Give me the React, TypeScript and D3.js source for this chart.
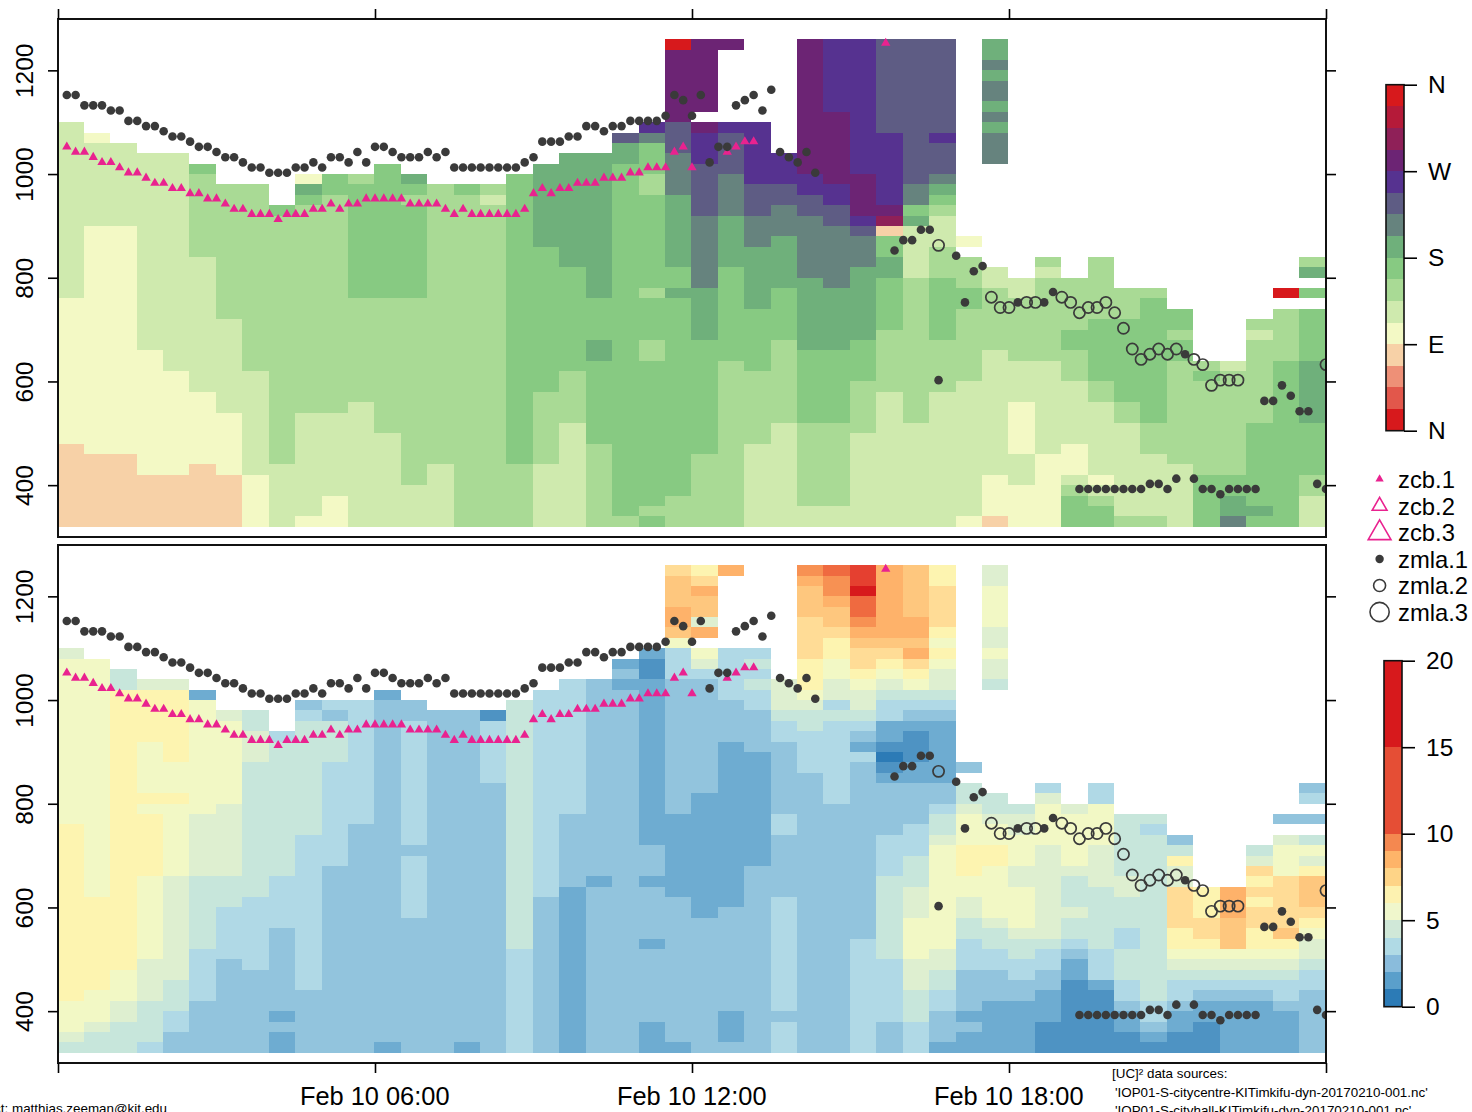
import React, { useEffect, useRef } from 'react';
import * as d3 from 'd3';

// cell grid: one column per 30 min, one gate per 20 m starting at 320 m
const GATE_BASE = 320;
const GATE_SIZE = 20;

// wind direction classes, 22.5 degree bins from north through east
const dirColors = ['#d7191c', '#e2574b', '#ee9077', '#f7d1a7', '#f3f9c5', '#cfeaae', '#a9da95', '#87ca82', '#6fb07b', '#66837e', '#5e5c84', '#563290', '#6c2474', '#8f2058', '#b51a39', '#d7191c'];
const dirKeys: Record<string, string> = { R: '#d7191c', P: '#f7d1a7', Y: '#f3f9c5', L: '#cfeaae', M: '#a9da95', G: '#87ca82', D: '#6fb07b', T: '#66837e', S: '#5e5c84', V: '#563290', U: '#6c2474', C: '#8f2058' };

// wind speed classes as the cells use them
const speedKeys: Record<string, string> = { a: '#2c7bb6', b: '#4e93c3', c: '#6eacd1', d: '#92c4dd', e: '#b0d9e6', f: '#c7e6db', g: '#deefd0', h: '#f2f8c5', i: '#fdf4b0', j: '#ffdc96', k: '#fec77e', l: '#feb26a', m: '#f79153', n: '#ef6a40', o: '#e54030', p: '#d7191c' };
const speedBreaks = [0, 1, 2, 3, 4, 5, 6, 7, 8, 9, 10, 15, 20];
const speedBarColors = ['#2c7bb6', '#5a9fcb', '#8abcdc', '#b0dae5', '#d0e8d8', '#f0f7cc', '#fdf2b0', '#fed487', '#feb469', '#f48850', '#e54e35', '#d7191c'];

// each column, bottom to top: class letter + gate where the class ends, _ = no data
const dirRuns = [
  'P8 Y22 L39', 'P7 Y29 L37 Y38', 'P7 Y29 L37', 'P5 Y17 L36', 'P5 Y15 L36', 'P6 Y13 L26 M34 G35',
  'P5 Y11 L20 M33', 'Y5 L15 M33', 'L6 M30 G31', 'Y1 L11 M31 G32 D33 Y34', 'Y3 L11 M32 G34', 'L12 M22 G33 M34',
  'L9 M22 G35', 'L4 M22 G31 M32 G33 D34', 'L6 M33', 'M32 G33', 'M31 L32 M33', 'M6 G34',
  'L6 M13 G27 D35', 'L10 M15 G25 D36', 'M8 G16 D18 G22 D36', 'M1 G35 D37 S38',
  'G1 M2 G16 M18 G22 M23 G32 M34 G37 T38 V39', 'M3 G22 D23 G25 D32 T36 S39 U46 R47',
  'M7 G18 D23 T30 S35 V38 U39 _40 U47', 'M16 G25 D30 T34 S38 V39 _46 U47', 'L8 M15 G21 D27 T30 S33 V39',
  'L10 M18 G23 D28 T31 S33 V36', 'L2 M10 G17 D24 T30 S32 V34 U47', 'L2 M10 G17 D23 T29 S31 V33 U40 V47',
  'L9 M14 G18 D25 T28 S29 V30 U34 V47', 'L13 M19 G24 D26 G28 P29 C30 U31 V38 S47', 'L10 M24 L29 D30 G31 T33 S47',
  'L13 M18 G24 M27 L30 M31 G32 D33 T34 S37 V38 S47', 'Y1 L14 M21 G23 M26 _27 Y28',
  'P1 Y5 L17 M23 L25 _35 T38 D39 T40 D41 T43 D44 T45 D47', 'Y4 L7 Y12 L16 M22 L24', 'Y7 L16 M24 L25 M26',
  'G3 M4 L5 Y8 L14 M17 G19 M24', 'G2 M3 L4 Y5 L12 M14 G20 M26', 'M1 L10 M12 G20 M23', 'M1 L7 M10 G22 M23',
  'L6 M16 G18 M19 G21', 'G5 M14 G15 M16', 'T1 D3 G5 M15 L16', 'G1 D2 G10 M18 L19 M20', 'G16 M21 _22 R23',
  'L3 M5 G10 D16 G21 _22 G23 _24 D25 M26',
];

const speedRuns = [
  'f1 g2 h5 i22 h38 g39', 'f2 g3 h6 i15 h38', 'f3 g5 h8 i35 f37', 'e1 f5 g9 h17 i23 h24 i25 h30 i35 g36',
  'd2 e4 f7 g17 h24 i25 h28 i35 g36', 'd5 e10 f17 g23 h34 c35', 'd9 e14 f17 g24 h32 g33', 'd8 e15 f28 g31 f33',
  'c2 d3 c4 d12 e17 f30 e31', 'd6 e21 f32 e33 d34', 'd18 e28 f32 d33 e34', 'd22 e34', 'c1 d34 c35',
  'd13 e19 d20 e32 d34', 'd33', 'c1 d33', 'd26 e32 b33', 'e10 f34', 'd15 e35', 'c16 d23 e36', 'd16 c17 d36',
  'd35 c36 d37 c38', 'c3 d10 c11 d16 c17 d20 c36 b38 c39', 'c1 d15 c23 d36 e39 h40 k41 l43 k46 j47',
  'd13 c25 d36 e37 g38 h39 _40 l41 g42 k44 l45 j46 i47', 'd1 c4 d14 c30 d34 e39 _46 l47',
  'd18 c29 d33 e35 f36 e37 f38 e39', 'e3 d4 e15 d21 e23 d30 e32 f33 g36',
  'd27 e31 f33 g34 h35 i38 j42 k45 l46 m47', 'd24 e32 f33 e34 g36 h38 i40 j41 k43 l44 m46 n47',
  'e11 d28 e29 c30 d31 e32 f33 g35 h36 i37 j39 k40 l41 m42 n44 p45 o47',
  'd3 e9 f17 e21 d26 c27 b28 a29 b30 c32 e34 f35 g36 h37 i38 j39 k40 l47',
  'e3 f6 g9 h13 g16 f19 e22 d26 c28 b31 c32 d33 e34 f35 h36 i37 j38 l39 k40 l42 k47',
  'c1 d4 e6 f8 g10 h20 g21 f23 e24 d26 c32 d33 e34 f35 g37 h38 i39 h40 i41 j45 i47',
  'c2 d3 c4 d8 e11 f13 g15 h17 i20 h23 g24 f26 _27 d28', 'c5 d8 e10 f12 g13 h18 i20 h22 g23 f25 _35 f36 g38 h39 g41 h45 g47',
  'c5 d7 e9 f11 g12 h16 g18 h21 g23 f24', 'b3 c6 d8 e10 f11 g20 h24 g25 e26', 'b7 c9 d10 e11 f13 g14 f17 g18 h23 g24',
  'b6 c7 e10 f16 g20 h24 e26', 'b2 c4 d5 e7 f10 e12 f15 g17 f23', 'b1 c2 d3 e5 f21 e22 f23',
  'b2 c4 d5 e7 f8 g9 h10 i12 j16 g18 i19 f20 d21', 'b3 c5 d6 e7 f8 g9 h10 i11 j13 i16', 'c5 d6 e7 f8 g9 h10 k13 l16',
  'c5 d6 e7 f8 g9 h10 i12 j14 i15 j16 i17 j18 g19 f20', 'c4 d5 e7 f8 g9 h10 i11 k12 j17 h20 g21 _22 d23',
  'd6 e8 f9 g11 h12 i13 j14 k17 i18 g19 h20 f21 _22 d23 _24 e25 d26',
];

// ceilometer series: [index of first 10-min sample, heights in m]
const zcb1: [number, number[]][] = [
  [1, [1050, 1040, 1040, 1030, 1020, 1020, 1010, 1000, 1000, 990, 980, 980, 970, 970, 960, 960, 950, 950, 940, 930, 930, 920, 920, 920, 910, 920, 920, 920, 930, 930, 940, 930, 940, 940, 950, 950, 950, 950, 950, 940, 940, 940, 940, 930, 920, 930, 920, 920, 920, 920, 920, 920, 930, 960, 970, 960, 970, 970, 980, 980, 980, 990, 990, 990, 1000, 1000, 1010, 1010, 1010, 1040, 1050, 1010]],
  [76, [1040, 1050, 1060, 1060]],
  [94, [1250]],
];
const zmla1: [number, number[]][] = [
  [1, [1150, 1150, 1130, 1130, 1130, 1120, 1120, 1100, 1100, 1090, 1090, 1080, 1070, 1070, 1060, 1050, 1050, 1040, 1030, 1030, 1020, 1010, 1010, 1000, 1000, 1000, 1010, 1010, 1020, 1010, 1030, 1030, 1020, 1040, 1020, 1050, 1050, 1040, 1030, 1030, 1030, 1040, 1030, 1040, 1010, 1010, 1010, 1010, 1010, 1010, 1010, 1010, 1020, 1030, 1060, 1060, 1060, 1070, 1070, 1090, 1090, 1080, 1090, 1090, 1100, 1100, 1100, 1100, 1110, 1150, 1140, 1110, 1150, 1020, 1050, 1050, 1130, 1140, 1150, 1120, 1160, 1040, 1030, 1020, 1040, 1000]],
  [95, [850, 870, 870, 890, 890, 600]],
  [102, [840, 750, 810, 820]],
  [109, [750]],
  [112, [750, 770]],
  [116, [390, 390, 390, 390, 390, 390, 390, 390, 400, 400, 390, 410]],
  [128, [650, 410, 390, 390, 380, 390, 390, 390, 390, 560, 560, 590, 570, 540, 540, 400, 390]],
];
const zmla2: [number, number[]][] = [
  [100, [860]],
  [106, [760, 740, 740]],
  [110, [750, 750]],
  [114, [760, 750, 730, 740, 740, 750, 730, 700, 660, 640, 650, 660, 650, 660]],
  [129, [640, 630, 590, 600, 600, 600]],
  [144, [630]],
];

const legendLabels = ['zcb.1', 'zcb.2', 'zcb.3', 'zmla.1', 'zmla.2', 'zmla.3'];
const dirTickLabels = ['N', 'E', 'S', 'W', 'N'];
const speedTicks = [0, 5, 10, 15, 20];
const altitudeTicks = [400, 600, 800, 1000, 1200];
const timeTicks = [0, 6, 12, 18, 24].map(h => new Date(Date.UTC(2017, 1, 10, h)));

const FONT = '"Liberation Sans", Arial, sans-serif';
const MAGENTA = '#e9228f';
const DOT = '#3a3a3a';
const INK = '#111';
const HEIGHT_SHIFT = 2.5; // marks sit a touch above the 10 m step they report
const CELL_SHIFT = -0.6; // image cells start a little left of their time stamp

const parseRuns = (s: string) => s.split(' ').map(t => ({ key: t[0], end: +t.slice(1) }));
const sampleTime = (i: number) => new Date(Date.UTC(2017, 1, 10) + i * 600000);
const flatten = (runs: [number, number[]][]) => runs.flatMap(([start, hs]) => hs.map((h, k) => ({ i: start + k, h })));

const x = d3.scaleUtc().domain([timeTicks[0], timeTicks[4]]).range([58, 1326]);
const formatTime = d3.utcFormat('%b %d %H:%M');

type Sel = d3.Selection<SVGSVGElement, unknown, null, undefined>;

function styleAxis(g: d3.Selection<SVGGElement, unknown, null, undefined>, size: number) {
  g.select('.domain').remove();
  g.selectAll('line').attr('stroke', '#000').attr('stroke-width', 1.6);
  g.selectAll('text').attr('fill', '#000').style('font-family', FONT).style('font-size', `${size}px`);
}

function drawPanel(svg: Sel, id: string, top: number, bottom: number, runs: string[], colors: Record<string, string>, first: boolean) {
  const y = d3.scaleLinear().domain([300, 1300]).range([bottom, top - 0.5]);
  const clip = `clip-${id}`;
  svg.append('clipPath').attr('id', clip).append('rect')
    .attr('x', 58).attr('y', top).attr('width', 1268).attr('height', bottom - top);

  const cells = svg.append('g').attr('shape-rendering', 'crispEdges').attr('clip-path', `url(#${clip})`);
  runs.forEach((col, c) => {
    const x0 = x(sampleTime(c * 3)) + CELL_SHIFT;
    const x1 = x(sampleTime((c + 1) * 3)) + CELL_SHIFT;
    let gate = 0;
    parseRuns(col).forEach(({ key, end }) => {
      if (key !== '_') {
        const yTop = y(GATE_BASE + end * GATE_SIZE);
        cells.append('rect')
          .attr('x', x0).attr('width', c === runs.length - 1 ? 1326 - x0 : x1 - x0)
          .attr('y', yTop).attr('height', y(GATE_BASE + gate * GATE_SIZE) - yTop)
          .attr('fill', colors[key]);
      }
      gate = end;
    });
  });

  const marks = svg.append('g').attr('clip-path', `url(#${clip})`);
  const tri = d3.symbol(d3.symbolTriangle, 38)();
  marks.selectAll('.zcb').data(flatten(zcb1)).enter().append('path')
    .attr('d', tri)
    .attr('fill', MAGENTA)
    .attr('transform', d => `translate(${x(sampleTime(d.i))},${y(d.h + HEIGHT_SHIFT)})`);
  marks.selectAll('.zmla1').data(flatten(zmla1)).enter().append('circle')
    .attr('cx', d => x(sampleTime(d.i))).attr('cy', d => y(d.h + HEIGHT_SHIFT))
    .attr('r', 4.3).attr('fill', DOT);
  marks.selectAll('.zmla2').data(flatten(zmla2)).enter().append('circle')
    .attr('cx', d => x(sampleTime(d.i))).attr('cy', d => y(d.h + HEIGHT_SHIFT))
    .attr('r', 5.6).attr('fill', 'none').attr('stroke', DOT).attr('stroke-width', 1.7);

  svg.append('rect')
    .attr('x', 58).attr('y', top).attr('width', 1268).attr('height', bottom - top)
    .attr('fill', 'none').attr('stroke', INK).attr('stroke-width', 2);

  const left = svg.append('g').attr('transform', 'translate(58,0)')
    .call(d3.axisLeft(y).tickValues(altitudeTicks).tickSize(10).tickPadding(13).tickFormat(d3.format('d')));
  styleAxis(left as any, 24.5);
  left.selectAll<SVGTextElement, number>('text')
    .attr('text-anchor', 'middle')
    .attr('dy', 0)
    .attr('x', 0).attr('y', 0)
    .attr('transform', () => 'translate(-25,0) rotate(-90)');

  const right = svg.append('g').attr('transform', 'translate(1326,0)')
    .call(d3.axisRight(y).tickValues(altitudeTicks).tickSize(10).tickFormat(() => ''));
  styleAxis(right as any, 10);

  if (first) {
    const up = svg.append('g').attr('transform', `translate(0,${top})`)
      .call(d3.axisTop(x).tickValues(timeTicks).tickSize(10).tickFormat(() => ''));
    styleAxis(up as any, 10);
  } else {
    const down = svg.append('g').attr('transform', `translate(0,${bottom})`)
      .call(d3.axisBottom(x).tickValues(timeTicks).tickSize(10).tickPadding(14)
        .tickFormat((d, i) => (i === 0 || i === 4 ? '' : formatTime(d as Date))));
    styleAxis(down as any, 25.4);
    down.selectAll('text').attr('dx', -0.8);
  }
}

function drawColorBars(svg: Sel) {
  const dirY = d3.scaleLinear().domain([0, 360]).range([430.7, 84.7]);
  const dirBar = svg.append('g');
  dirBar.selectAll('rect').data(dirColors).enter().append('rect')
    .attr('x', 1386).attr('width', 18)
    .attr('y', (_, i) => dirY((i + 1) * 22.5))
    .attr('height', dirY(0) - dirY(22.5))
    .attr('fill', d => d)
    .attr('shape-rendering', 'crispEdges');
  dirBar.append('rect').attr('x', 1386).attr('y', 84.7).attr('width', 18).attr('height', 346)
    .attr('fill', 'none').attr('stroke', INK).attr('stroke-width', 1.6);
  const dirAxis = svg.append('g').attr('transform', 'translate(1404,0)')
    .call(d3.axisRight(dirY).tickValues([0, 90, 180, 270, 360]).tickSize(13).tickPadding(11)
      .tickFormat((_, i) => dirTickLabels[i]));
  styleAxis(dirAxis as any, 24.5);

  const speedY = d3.scaleLinear().domain([0, 20]).range([1006.7, 660.7]);
  const speedBar = svg.append('g');
  speedBar.selectAll('rect').data(speedBarColors).enter().append('rect')
    .attr('x', 1384).attr('width', 18)
    .attr('y', (_, i) => speedY(speedBreaks[i + 1]))
    .attr('height', (_, i) => speedY(speedBreaks[i]) - speedY(speedBreaks[i + 1]))
    .attr('fill', d => d)
    .attr('shape-rendering', 'crispEdges');
  speedBar.append('rect').attr('x', 1384).attr('y', 660.7).attr('width', 18).attr('height', 346)
    .attr('fill', 'none').attr('stroke', INK).attr('stroke-width', 1.6);
  const speedAxis = svg.append('g').attr('transform', 'translate(1402,0)')
    .call(d3.axisRight(speedY).tickValues(speedTicks).tickSize(13).tickPadding(11).tickFormat(d3.format('d')));
  styleAxis(speedAxis as any, 24.5);
}

function drawLegend(svg: Sel) {
  const rowY = d3.scaleLinear().domain([0, 5]).range([488, 620.5]);
  const triSizes = [30, 95, 225];
  const dotRadii = [4.2, 6, 9.6];
  legendLabels.forEach((label, i) => {
    const cy = rowY(i) - 9;
    if (i < 3) {
      svg.append('path')
        .attr('d', d3.symbol(d3.symbolTriangle, triSizes[i])())
        .attr('transform', `translate(1379.6,${cy + i * 0.5})`)
        .attr('fill', i === 0 ? MAGENTA : 'none')
        .attr('stroke', i === 0 ? 'none' : MAGENTA)
        .attr('stroke-width', 1.6);
    } else {
      svg.append('circle')
        .attr('cx', 1379.6).attr('cy', cy + 0.5).attr('r', dotRadii[i - 3])
        .attr('fill', i === 3 ? DOT : 'none')
        .attr('stroke', i === 3 ? 'none' : DOT)
        .attr('stroke-width', 1.6);
    }
    svg.append('text')
      .attr('x', 1398).attr('y', rowY(i))
      .attr('fill', '#000')
      .style('font-family', FONT).style('font-size', '23.8px')
      .text(label);
  });
}

function drawNotes(svg: Sel) {
  const note = (tx: number, ty: number, s: string, anchor = 'start') =>
    svg.append('text').attr('x', tx).attr('y', ty).attr('text-anchor', anchor)
      .attr('fill', '#000').style('font-family', FONT).style('font-size', '13.4px').text(s);
  note(167, 1113, 'contact: matthias.zeeman@kit.edu', 'end');
  note(1112, 1078, '[UC]² data sources:');
  note(1115, 1097, "'IOP01-S-citycentre-KITimkifu-dyn-20170210-001.nc'");
  note(1115, 1115, "'IOP01-S-cityhall-KITimkifu-dyn-20170210-001.nc'");
}

export default function App() {
  const svgRef = useRef<SVGSVGElement>(null);

  useEffect(() => {
    if (!svgRef.current) return;
    const svg = d3.select(svgRef.current);
    svg.selectAll('*').remove();

    drawPanel(svg, 'dir', 19, 537, dirRuns, dirKeys, true);
    drawPanel(svg, 'speed', 545, 1063, speedRuns, speedKeys, false);
    drawColorBars(svg);
    drawLegend(svg);
    drawNotes(svg);
  }, []);

  return (
    <svg
      ref={svgRef}
      width="1472"
      height="1112"
      style={{ position: 'absolute', left: 0, top: 0, display: 'block', background: '#fff' }}
    />
  );
}
